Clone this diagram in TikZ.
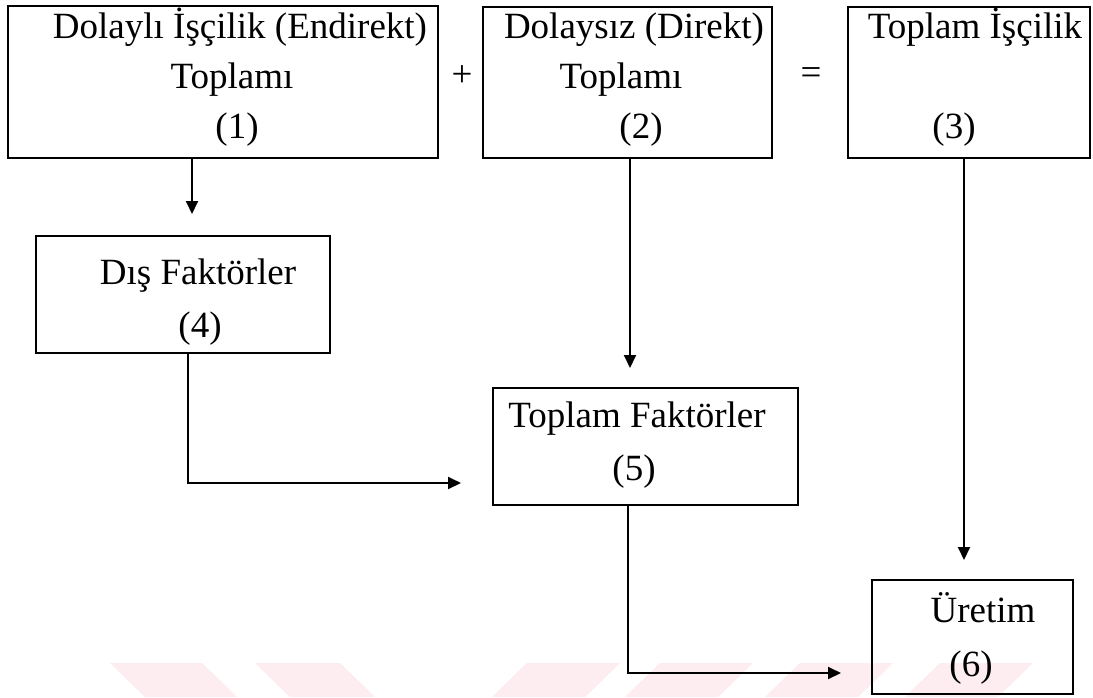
\documentclass[tikz,border=0pt]{standalone}
\usepackage{fontspec}
\setmainfont{Liberation Serif}
\usetikzlibrary{arrows.meta}
\definecolor{wmpink}{RGB}{253,236,240}
\tikzset{
  box/.style={draw, line width=1.9pt, inner sep=0pt, anchor=north west},
  lbl/.style={anchor=base, inner sep=0pt, font=\fontsize{37}{44}\selectfont},
  opsign/.style={anchor=center, inner sep=0pt, font=\fontsize{37}{44}\selectfont},
  conn/.style={line width=1.9pt, -{Triangle[length=13pt,width=12pt]}},
  band/.style={fill=wmpink, draw=none}
}
\begin{document}
\begin{tikzpicture}[x=1pt, y=-1pt]
  % canvas
  \fill[white] (0,0) rectangle (1093,697);
  \useasboundingbox (0,0) rectangle (1093,697);

  % pale chevron bands along the bottom edge
  \fill[band] (110,663) -- (202,663) -- (237,697) -- (145,697) -- cycle;
  \fill[band] (255,663) -- (340,663) -- (375,697) -- (290,697) -- cycle;
  \fill[band] (527,663) -- (620,663) -- (585,697) -- (492,697) -- cycle;
  \fill[band] (660,663) -- (753,663) -- (718,697) -- (625,697) -- cycle;
  \fill[band] (800,663) -- (893,663) -- (858,697) -- (765,697) -- cycle;
  \fill[band] (940,663) -- (1033,663) -- (998,697) -- (905,697) -- cycle;

  % boxes
  \node[box, minimum width=430pt, minimum height=152pt] (b1) at (7,5) {};
  \node[box, minimum width=289pt, minimum height=151pt] (b2) at (482,6) {};
  \node[box, minimum width=242pt, minimum height=151pt] (b3) at (847,6) {};
  \node[box, minimum width=294pt, minimum height=117pt] (b4) at (35,235) {};
  \node[box, minimum width=305pt, minimum height=117pt] (b5) at (492,387) {};
  \node[box, minimum width=201pt, minimum height=114pt] (b6) at (871,579) {};

  % box texts
  \node[lbl] (t1a) at (240,38) {Dolaylı İşçilik (Endirekt)};
  \node[lbl] (t1b) at (232,88) {Toplamı};
  \node[lbl] (t1c) at (237,138) {(1)};
  \node[lbl] (t2a) at (634,38) {Dolaysız (Direkt)};
  \node[lbl] (t2b) at (621,88) {Toplamı};
  \node[lbl] (t2c) at (641,138) {(2)};
  \node[lbl] (t3a) at (975,38) {Toplam İşçilik};
  \node[lbl] (t3c) at (954,138) {(3)};
  \node[lbl] (t4a) at (198,284) {Dış Faktörler};
  \node[lbl] (t4b) at (200,337) {(4)};
  \node[lbl] (t5a) at (637,427) {Toplam Faktörler};
  \node[lbl] (t5b) at (634,480) {(5)};
  \node[lbl] (t6a) at (983,622) {Üretim};
  \node[lbl] (t6b) at (971,676) {(6)};

  % operators between the top boxes
  \node[opsign] (plus) at (462,76) {+};
  \node[opsign] (eq) at (811,76) {=};

  % connector positions
  \coordinate (x14) at (192,0);
  \coordinate (x25) at (630,0);
  \coordinate (x36) at (964,0);
  \coordinate (x45) at (188,0);
  \coordinate (y45) at (0,483);
  \coordinate (x56) at (628,0);
  \coordinate (y56) at (0,673);

  % connectors
  \draw[conn, shorten >=21pt] (b1.south -| x14) -- (b4.north -| x14);
  \draw[conn, shorten >=19pt] (b2.south -| x25) -- (b5.north -| x25);
  \draw[conn, shorten >=19pt] (b3.south -| x36) -- (b6.north -| x36);
  \draw[conn, shorten >=31pt] (b4.south -| x45) |- (b5.west |- y45);
  \draw[conn, shorten >=30pt] (b5.south -| x56) |- (b6.west |- y56);
\end{tikzpicture}
\end{document}
